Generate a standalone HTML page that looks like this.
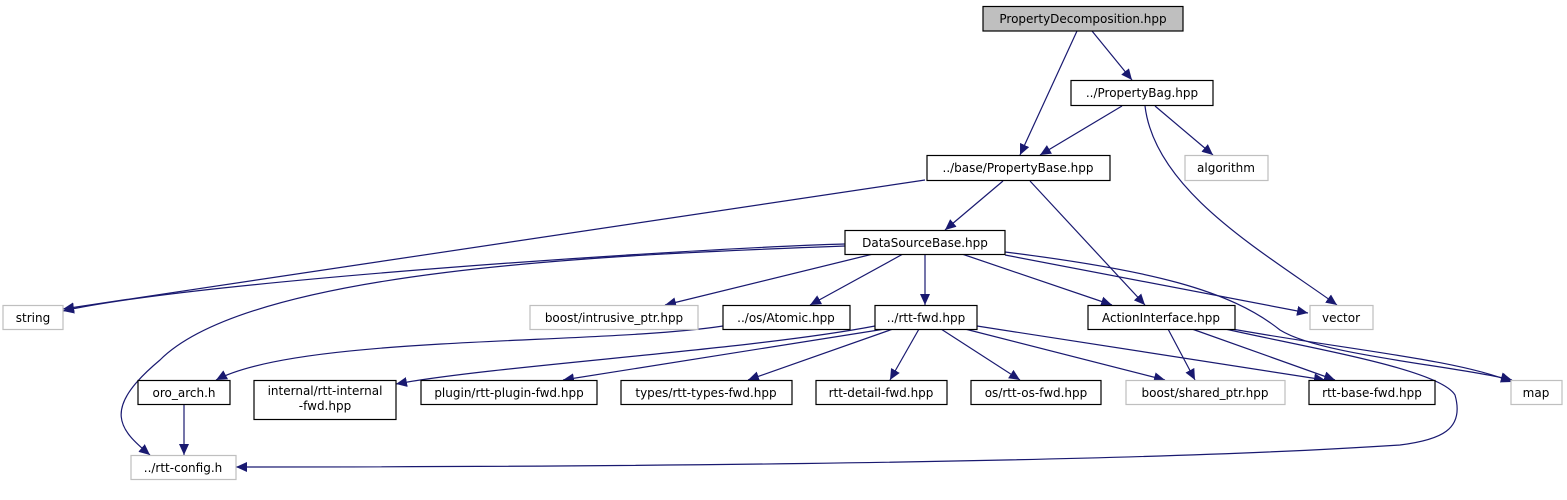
<!DOCTYPE html>
<html><head><meta charset="utf-8"><style>
html,body{margin:0;padding:0;background:#fff;}
svg{display:block;}
text{font-family:"DejaVu Sans","Liberation Sans",sans-serif;font-size:12px;text-anchor:middle;fill:#000;}
</style></head><body>
<svg width="1567" height="500" viewBox="0 0 1567 500" xmlns="http://www.w3.org/2000/svg">
<defs>
<marker id="a" markerUnits="userSpaceOnUse" markerWidth="12" markerHeight="10" refX="11" refY="5" orient="auto">
<path d="M0,0 L11,5 L0,10 z" fill="#191970"/>
</marker>
</defs>
<g fill="none" stroke="#191970" stroke-width="1.2" marker-end="url(#a)">
<path d="M1077,31 L1020,155"/>
<path d="M1092,31 L1132,80"/>
<path d="M1122,106 L1040,155"/>
<path d="M1155,106 L1213,155"/>
<path d="M1145,106 C1155,190 1260,250 1337,305"/>
<path d="M925,180 L63,309"/>
<path d="M1003,181 L945,230"/>
<path d="M1030,181 L1145,305"/>
<path d="M845,244 C700,248 200,280 63,311"/>
<path d="M845,246 C600,255 250,270 160,360 C100,410 120,430 150,455"/>
<path d="M873,254 L665,305"/>
<path d="M903,254 L810,305"/>
<path d="M925,254 L925,305"/>
<path d="M962,254 L1112,305"/>
<path d="M1005,255 L1308,313"/>
<path d="M1005,252 C1150,270 1230,290 1280,330 C1320,355 1450,365 1512,380"/>
<path d="M723,326 C600,345 300,335 216,380"/>
<path d="M875,326 C750,350 500,365 396,384"/>
<path d="M885,329 L563,380"/>
<path d="M893,329 L748,380"/>
<path d="M919,329 L890,380"/>
<path d="M941,329 L1020,380"/>
<path d="M965,329 L1165,380"/>
<path d="M977,326 L1325,380"/>
<path d="M1225,329 C1320,350 1440,370 1455,395 C1465,430 1440,440 1400,445 C1100,465 500,467 236,467"/>
<path d="M1168,329 L1195,380"/>
<path d="M1192,329 L1335,380"/>
<path d="M1232,329 C1350,350 1460,360 1512,382"/>
<path d="M184,404 L184,455"/>
</g>
<g stroke-width="1.2">
<rect x="983" y="6.5" width="200" height="24.5" fill="#bfbfbf" stroke="#000"/>
<rect x="1071" y="80.5" width="142" height="25" fill="#fff" stroke="#000"/>
<rect x="1185" y="155.5" width="83" height="25" fill="#fff" stroke="#bfbfbf"/>
<rect x="927" y="155.5" width="183" height="25" fill="#fff" stroke="#000"/>
<rect x="845" y="230.5" width="160" height="24" fill="#fff" stroke="#000"/>
<rect x="3" y="305.5" width="60" height="24" fill="#fff" stroke="#bfbfbf"/>
<rect x="530" y="305.5" width="168" height="24" fill="#fff" stroke="#bfbfbf"/>
<rect x="723" y="305.5" width="127" height="24" fill="#fff" stroke="#000"/>
<rect x="875" y="305.5" width="102" height="24" fill="#fff" stroke="#000"/>
<rect x="1088" y="305.5" width="147" height="24" fill="#fff" stroke="#000"/>
<rect x="1310" y="305.5" width="63" height="24" fill="#fff" stroke="#bfbfbf"/>
<rect x="138" y="380.5" width="92" height="24" fill="#fff" stroke="#000"/>
<rect x="254" y="380.5" width="142" height="39" fill="#fff" stroke="#000"/>
<rect x="421" y="380.5" width="176" height="24" fill="#fff" stroke="#000"/>
<rect x="621" y="380.5" width="171" height="24" fill="#fff" stroke="#000"/>
<rect x="816" y="380.5" width="131" height="24" fill="#fff" stroke="#000"/>
<rect x="971" y="380.5" width="130" height="24" fill="#fff" stroke="#000"/>
<rect x="1126" y="380.5" width="159" height="24" fill="#fff" stroke="#bfbfbf"/>
<rect x="1309" y="380.5" width="126" height="24" fill="#fff" stroke="#000"/>
<rect x="1511" y="380.5" width="51" height="24" fill="#fff" stroke="#bfbfbf"/>
<rect x="131" y="455.5" width="105" height="24" fill="#fff" stroke="#bfbfbf"/>
</g>
<text x="1083" y="23">PropertyDecomposition.hpp</text>
<text x="1142" y="97">../PropertyBag.hpp</text>
<text x="1226" y="172">algorithm</text>
<text x="1018" y="172">../base/PropertyBase.hpp</text>
<text x="925" y="247">DataSourceBase.hpp</text>
<text x="33" y="322">string</text>
<text x="614" y="322">boost/intrusive_ptr.hpp</text>
<text x="786" y="322">../os/Atomic.hpp</text>
<text x="926" y="322">../rtt-fwd.hpp</text>
<text x="1161" y="322">ActionInterface.hpp</text>
<text x="1341" y="322">vector</text>
<text x="184" y="397">oro_arch.h</text>
<text x="325" y="395">internal/rtt-internal</text>
<text x="325" y="410">-fwd.hpp</text>
<text x="509" y="397">plugin/rtt-plugin-fwd.hpp</text>
<text x="706" y="397">types/rtt-types-fwd.hpp</text>
<text x="881" y="397">rtt-detail-fwd.hpp</text>
<text x="1036" y="397">os/rtt-os-fwd.hpp</text>
<text x="1205" y="397">boost/shared_ptr.hpp</text>
<text x="1372" y="397">rtt-base-fwd.hpp</text>
<text x="1536" y="397">map</text>
<text x="183" y="472">../rtt-config.h</text>
</svg>
</body></html>
